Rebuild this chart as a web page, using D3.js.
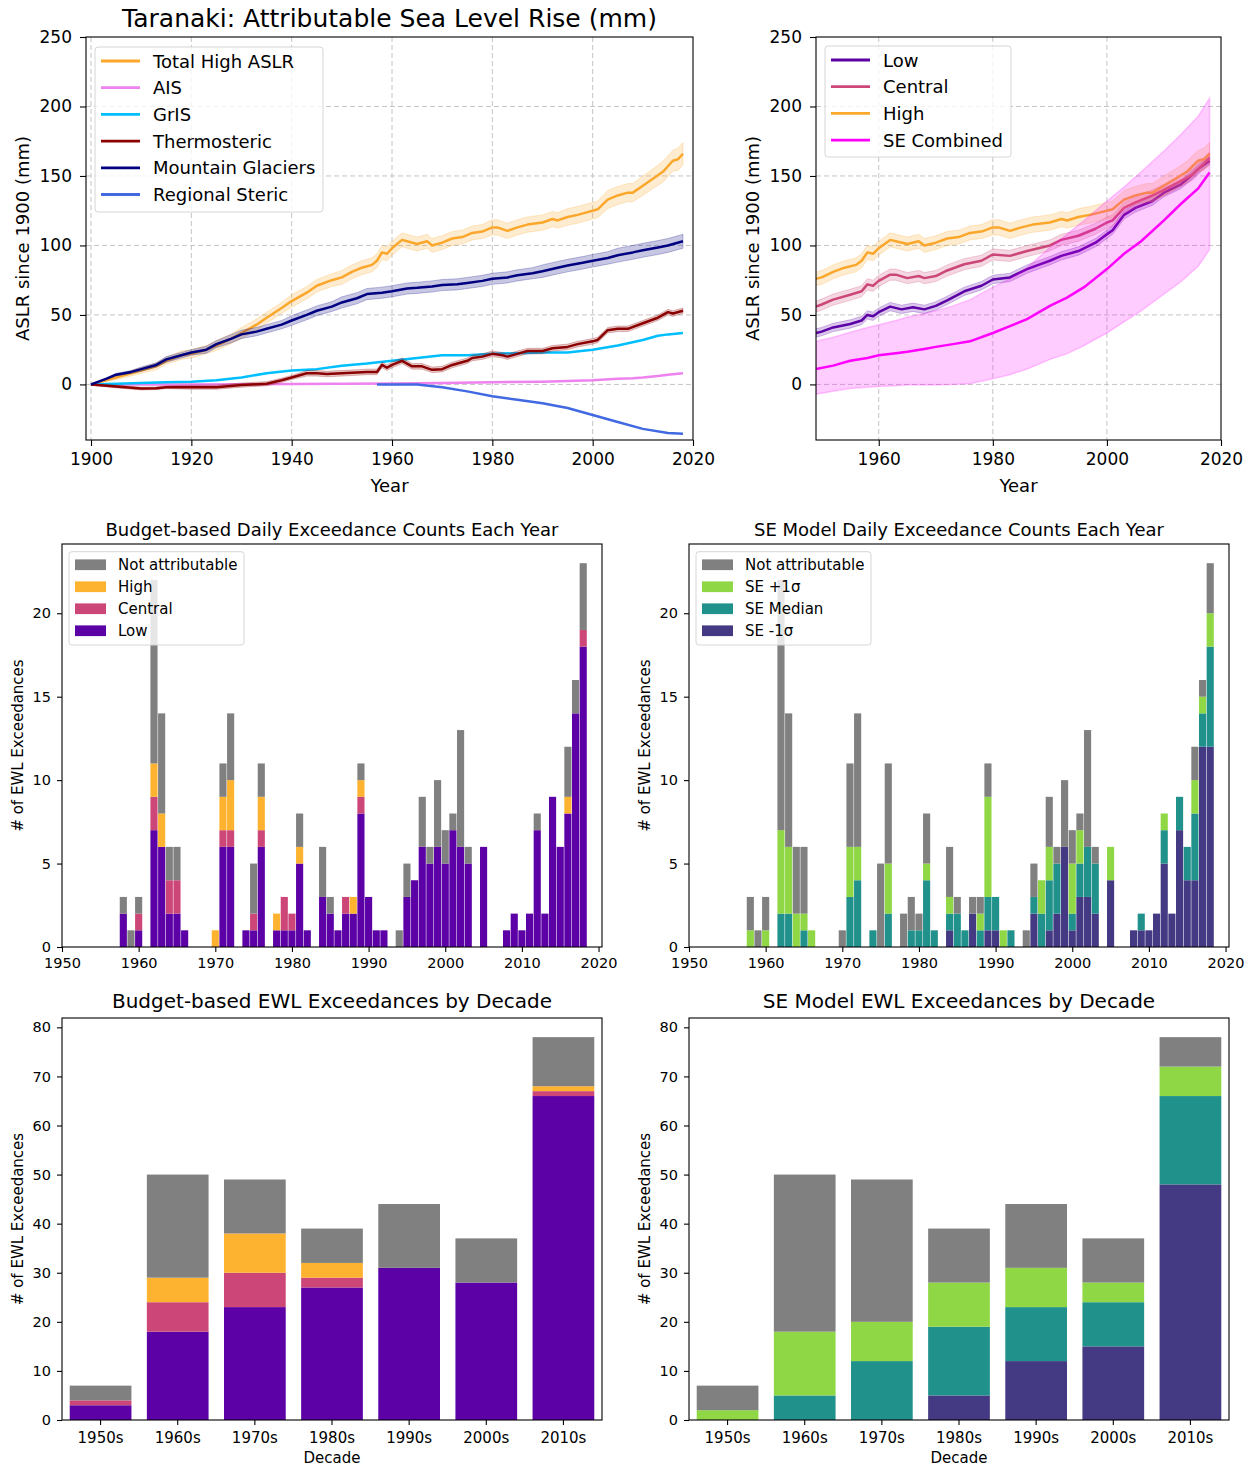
<!DOCTYPE html>
<html>
<head>
<meta charset="utf-8">
<script src="https://cdn.jsdelivr.net/npm/d3@7"></script>
<style>
  body { margin: 0; background: #fff; }
  svg { font-family: "DejaVu Sans", sans-serif; }
</style>
</head>
<body>
<svg id="fig" width="1255" height="1469"></svg>
<script>
// ---------- data ----------
// line series: [year, value, half band width]
const totalHighAslr = [[1900,0,0],[1903,3,1],[1905,5,1.5],[1908,8,2],[1910,10,2],[1913,13,2.5],[1915,17,2.5],[1918,21,3],[1920,22,3],[1923,25,3],[1925,28,3.5],[1928,33,3.5],[1930,37,4],[1933,43,4],[1935,48,4],[1938,55,4],[1940,60,4.5],[1943,66,4.5],[1945,71,4.5],[1948,75,4.5],[1950,77,5],[1952,81,5],[1954,84,5],[1956,86,5],[1957,89,5],[1958,95,5],[1959,94,5],[1960,98,5],[1962,104,5],[1963,103,5],[1965,101,5],[1967,103,5],[1968,100,5],[1970,102,5],[1972,105,5],[1974,106,5],[1976,109,5],[1978,110,5],[1980,113,5.5],[1981,113,5.5],[1983,110.5,5.5],[1985,113,5.5],[1987,115,5.5],[1990,116.5,5.5],[1992,119,5.5],[1993,118,5.5],[1995,120.5,6],[1997,122,6],[1999,124,6],[2000,125,6],[2001,126,6],[2003,133,6.5],[2005,136,6.5],[2007,138,6.5],[2008,138,6.5],[2010,143,7],[2012,148,7],[2014,153,7.5],[2015,157,7.5],[2016,161,7.5],[2017,162,8],[2018,166,8]];
const ais = [[1900,0,0],[1920,0,0],[1940,0.3,0],[1960,0.6,0],[1970,1,0],[1980,1.5,0],[1990,2,0],[1995,2.5,0],[2000,3,0],[2005,4,0],[2008,4.5,0],[2010,5,0],[2013,6,0],[2015,7,0],[2018,8,0]];
const gris = [[1900,0,0],[1905,0.5,0],[1910,1,0],[1915,1.5,0],[1920,2,0],[1925,3,0],[1930,5,0],[1935,8,0],[1940,10,0],[1945,11,0],[1950,13.5,0],[1955,15,0],[1960,17,0],[1965,19,0],[1970,21,0],[1975,21,0],[1980,22,0],[1985,22.5,0],[1990,23,0],[1995,23,0],[2000,25,0],[2005,28,0],[2010,32,0],[2013,35,0],[2015,36,0],[2018,37,0]];
const thermosteric = [[1900,0,0.5],[1905,-1.5,1],[1910,-3,1],[1913,-2.8,1],[1915,-2,1],[1920,-2,1.5],[1925,-2,1.5],[1930,-0.5,1.5],[1935,0.5,1.5],[1938,3,1.5],[1940,5,1.5],[1943,8,2],[1945,8,2],[1947,7.5,2],[1950,8,2],[1955,9,2],[1957,9,2],[1958,14,2],[1959,12,2],[1960,14,2],[1962,17,2],[1964,13,2],[1966,13,2],[1968,10.5,2],[1970,11,2],[1972,14,2],[1975,17,2],[1976,19,2],[1978,20,2],[1980,22,2],[1982,21,2],[1983,20,2],[1985,22,2],[1987,24,2],[1990,24,2],[1992,26,2],[1995,27,2],[1997,29,2],[2000,31,2],[2001,32,2],[2003,39,2],[2005,40,2],[2007,40,2],[2010,44,2],[2013,48,2],[2015,52,2],[2016,51,2],[2018,53,2]];
const mountainGlaciers = [[1900,0,0],[1903,4,0.5],[1905,7,1],[1908,9,1],[1910,11,1.5],[1913,14,1.5],[1915,18,2],[1918,21,2],[1920,23,2],[1923,25,2.5],[1925,29,2.5],[1928,33,3],[1930,36,3],[1933,38,3],[1935,40,3],[1938,43,3],[1940,46,3.5],[1943,50,3.5],[1945,53,3.5],[1948,56,3.5],[1950,59,4],[1953,62,4],[1955,65,4],[1958,66,4],[1960,67,4],[1963,69,4],[1965,69.5,4],[1968,70.5,4],[1970,71.5,4],[1973,72,4],[1975,73,4],[1978,74.5,4],[1980,76,4],[1983,77,4],[1985,78.5,4],[1988,80,4],[1990,81.5,4.5],[1993,84,4.5],[1995,85.5,4.5],[1998,87.5,4.5],[2000,89,4.5],[2003,91,4.5],[2005,93,5],[2008,95,5],[2010,96.5,5],[2013,98.5,5],[2015,100,5],[2018,103,5]];
const regionalSteric = [[1957,0,0],[1960,0,0],[1965,0,0],[1970,-2,0],[1975,-5,0],[1980,-8.5,0],[1985,-11,0],[1990,-13.5,0],[1995,-17,0],[2000,-22,0],[2005,-27,0],[2010,-32,0],[2015,-35,0],[2018,-35.5,0]];

const lowAslr = [[1949,37,3],[1950,38,3],[1952,41,3],[1955,43.5,3],[1957,46,3],[1958,50,3],[1959,49,3],[1960,52,3],[1962,56,3],[1964,54,3],[1966,55.5,3],[1968,54,3],[1970,56.5,3],[1972,60.5,3],[1975,67,3],[1978,71,3],[1980,75.5,3],[1983,77,3],[1986,83,3],[1988,86,3],[1990,89,3],[1992,92.5,3],[1995,96,3],[1998,102,3],[2000,108,3],[2001,111,3],[2003,122,3],[2005,127,3],[2008,132,3],[2010,138,3],[2013,144,3],[2015,151,3],[2016,155,3],[2018,161,3]];
const centralAslr = [[1949,56,4],[1950,57.5,4],[1952,61,4],[1955,64.5,4],[1957,67,4],[1958,72,4],[1959,71,4],[1960,74.5,4],[1962,79,4],[1963,79,4],[1965,76.5,4],[1967,78,4],[1968,76.5,4],[1970,78,4],[1972,82,4],[1975,86.5,4],[1978,89,4],[1980,93.5,4],[1983,92.5,4],[1986,96,4],[1990,100,4],[1992,104,4],[1995,107,4],[1998,112,4],[2000,116.5,4],[2001,118,4],[2003,127,4],[2005,131,4],[2008,136,4],[2010,140,4],[2013,146.5,4],[2015,151,4],[2016,155,4],[2018,163,4]];
// SE combined: [year, median, lower, upper]
const seCombined = [[1949,11,-7,31],[1952,13.5,-5,34],[1955,17,-3,37.5],[1958,19,-2,41],[1960,21,-1.5,43],[1963,22.5,-1,46],[1965,23.5,-0.5,48.5],[1968,25.5,-0.5,51],[1970,27,-0.5,53],[1973,29,0,56.5],[1976,31,0.5,61],[1980,37,4,70],[1983,42,7,76],[1986,47,11,84],[1990,56.5,18,98.5],[1993,62.5,22,108],[1996,70,28,118],[2000,83,37,132],[2003,94,45,142],[2006,103,53,153],[2010,118,65,168],[2013,130,74,180],[2016,141,85,193],[2018,152.5,97,206]];

// daily exceedance counts per year
const barYears = [1958,1959,1960,1962,1963,1964,1965,1966,1970,1971,1972,1974,1975,1976,1978,1979,1980,1981,1982,1984,1985,1986,1987,1988,1989,1990,1991,1992,1994,1995,1996,1997,1998,1999,2000,2001,2002,2003,2005,2008,2009,2010,2011,2012,2013,2014,2015,2016,2017,2018];
const budgetLow     = [2,0,1,7,6,2,2,1,0,6, 6,1,1,6,1,1,1,5,1,3, 2,1,2,2,8,3,1,1,0,3, 4,6,5,6,5,7,6,5,6,1, 2,1,2,7,2,9,6,8,14,18];
const budgetCentral = [0,0,1,2,0,2,2,0,0,1, 1,0,1,1,0,2,1,0,0,0, 0,0,1,0,1,0,0,0,0,0, 0,0,0,0,0,0,0,0,0,0, 0,0,0,0,0,0,0,0,0,1];
const budgetHigh    = [0,0,0,2,2,0,0,0,1,2, 3,0,0,2,1,0,0,1,0,0, 0,0,0,1,1,0,0,0,0,0, 0,0,0,0,0,0,0,0,0,0, 0,0,0,0,0,0,0,1,0,0];
const budgetNA      = [1,1,1,11,6,2,2,0,0,2, 4,0,3,2,0,0,0,2,0,3, 1,0,0,0,1,0,0,0,1,2, 0,3,1,4,2,1,7,1,0,0, 0,0,0,1,0,0,0,3,2,4];
const seMinus  = [0,0,0,0,0,0,0,0,0,0, 0,0,0,0,0,0,0,0,0,1, 0,0,2,0,1,1,0,0,0,2, 0,1,2,6,1,3,3,2,4,1, 1,1,2,5,2,7,4,4,12,12];
const seMedian = [0,0,0,2,2,0,1,0,0,3, 4,1,0,2,0,1,1,4,1,1, 2,1,0,1,2,2,0,1,0,1, 2,3,3,0,1,2,3,3,0,0, 1,0,0,2,0,2,2,4,2,6];
const sePlus   = [1,0,1,5,4,2,1,1,0,3, 2,0,0,3,0,0,0,1,0,1, 0,0,0,1,6,0,1,0,0,0, 2,2,0,0,3,2,0,0,2,0, 0,0,0,1,0,0,0,2,1,2];
const seNA     = [2,1,2,15,8,4,4,0,1,5, 8,0,5,6,2,2,1,3,0,3, 1,0,1,1,2,0,0,0,1,2, 0,3,1,4,2,1,7,1,0,0, 0,0,0,0,0,0,0,2,1,3];

// exceedances per decade
const decades = ["1950s","1960s","1970s","1980s","1990s","2000s","2010s"];
const decBudgetLow = [3,18,23,27,31,28,66];
const decBudgetCentral = [1,6,7,2,0,0,1];
const decBudgetHigh = [0,5,8,3,0,0,1];
const decBudgetNA = [3,21,11,7,13,9,10];
const decSeMinus = [0,0,0,5,12,15,48];
const decSeMedian = [0,5,12,14,11,9,18];
const decSePlus = [2,13,8,9,8,4,6];
const decSeNA = [5,32,29,11,13,9,6];

const topXTicks = [1900,1920,1940,1960,1980,2000,2020];
const topRXTicks = [1960,1980,2000,2020];
const topYTicks = [0,50,100,150,200,250];
const midXTicks = [1950,1960,1970,1980,1990,2000,2010,2020];
const midYTicks = [0,5,10,15,20];
const botYTicks = [0,10,20,30,40,50,60,70,80];

// ---------- colours ----------
const C = {
  gray: "#808080", low: "#5c01a6", central: "#cc4778", high: "#fdb32f", highLine: "#fba72c",
  seMinus: "#443983", seMedian: "#21918c", sePlus: "#8fd744", seLine: "#ff00ff"
};

const svg = d3.select("#fig");
const FONT = '"DejaVu Sans", sans-serif';

function frame(b) {
  svg.append("rect").attr("x", b.left).attr("y", b.top)
    .attr("width", b.right - b.left).attr("height", b.bottom - b.top)
    .attr("fill", "none").attr("stroke", "#000").attr("stroke-width", 1.1);
}

function styleAxis(g, fs) {
  g.attr("font-size", fs).attr("font-family", FONT);
  g.select(".domain").remove();
  g.selectAll(".tick line").attr("stroke", "#000").attr("stroke-width", 1.1);
  g.selectAll(".tick text").attr("fill", "#000");
}

function addText(x, y, txt, fs, opts = {}) {
  const t = svg.append("text").attr("x", x).attr("y", y)
    .attr("font-size", fs).attr("text-anchor", opts.anchor || "middle")
    .attr("fill", "#000").text(txt);
  if (opts.rotate) t.attr("transform", `rotate(-90,${x},${y})`).attr("dominant-baseline", "central");
  return t;
}

function legendBox(x0, y0, x1, y1) {
  svg.append("rect").attr("x", x0).attr("y", y0).attr("width", x1 - x0).attr("height", y1 - y0)
    .attr("rx", 3).attr("fill", "#fff").attr("fill-opacity", 0.8)
    .attr("stroke", "#d6d6d6").attr("stroke-width", 1);
}

// ---------- line panels ----------
function linePanel(b, xDomain, xTicks, series, seBand, legend, clipId) {
  const x = d3.scaleLinear().domain(xDomain).range([b.left, b.right]);
  const y = d3.scaleLinear().domain([-40, 250]).range([b.bottom, b.top]);

  svg.append("clipPath").attr("id", clipId).append("rect")
    .attr("x", b.left).attr("y", b.top).attr("width", b.right - b.left).attr("height", b.bottom - b.top);

  const grid = svg.append("g").attr("stroke", "#c4c4c4").attr("stroke-width", 1).attr("stroke-dasharray", "5,3");
  grid.selectAll(".gx").data(xTicks.filter(t => t > xDomain[0] && t < xDomain[1])).join("line")
    .attr("x1", d => x(d)).attr("x2", d => x(d)).attr("y1", b.top).attr("y2", b.bottom);
  grid.selectAll(".gy").data(topYTicks.filter(t => t > -40 && t < 250)).join("line")
    .attr("y1", d => y(d)).attr("y2", d => y(d)).attr("x1", b.left).attr("x2", b.right);

  const g = svg.append("g").attr("clip-path", `url(#${clipId})`);
  const band = d3.area().x(d => x(d[0])).y0(d => y(d[1] - d[2])).y1(d => y(d[1] + d[2]));
  const line = d3.line().x(d => x(d[0])).y(d => y(d[1]));

  series.forEach(s => {
    if (d3.max(s.data, d => d[2]) > 0) {
      g.append("path").datum(s.data).attr("d", band).attr("fill", s.color).attr("fill-opacity", 0.22)
        .attr("stroke", s.color).attr("stroke-opacity", 0.25).attr("stroke-width", 1);
    }
    g.append("path").datum(s.data).attr("d", line).attr("fill", "none")
      .attr("stroke", s.color).attr("stroke-width", 2.5).attr("stroke-linejoin", "round");
  });

  if (seBand) {
    const seArea = d3.area().x(d => x(d[0])).y0(d => y(d[2])).y1(d => y(d[3]));
    g.append("path").datum(seBand).attr("d", seArea).attr("fill", C.seLine).attr("fill-opacity", 0.2)
      .attr("stroke", C.seLine).attr("stroke-opacity", 0.2).attr("stroke-width", 1.5);
    g.append("path").datum(seBand).attr("d", d3.line().x(d => x(d[0])).y(d => y(d[1])))
      .attr("fill", "none").attr("stroke", C.seLine).attr("stroke-width", 2.5);
  }

  frame(b);
  const gx = svg.append("g").attr("transform", `translate(0,${b.bottom})`)
    .call(d3.axisBottom(x).tickValues(xTicks).tickFormat(d3.format("d")).tickSize(6).tickPadding(7));
  styleAxis(gx, 17);
  const gy = svg.append("g").attr("transform", `translate(${b.left},0)`)
    .call(d3.axisLeft(y).tickValues(topYTicks).tickSize(6).tickPadding(8));
  styleAxis(gy, 17);

  addText((b.left + b.right) / 2, 492, "Year", 18);
  addText(b.left - 64, (b.top + b.bottom) / 2, "ASLR since 1900 (mm)", 18, { rotate: true });

  // legend
  legendBox(legend.x0, legend.y0, legend.x1, legend.y1);
  legend.items.forEach((it, i) => {
    const yy = legend.y0 + 14 + i * 26.7;
    svg.append("line").attr("x1", legend.x0 + 6).attr("x2", legend.x0 + 45).attr("y1", yy).attr("y2", yy)
      .attr("stroke", it.color).attr("stroke-width", 2.8);
    svg.append("text").attr("x", legend.x0 + 58).attr("y", yy).attr("dominant-baseline", "central")
      .attr("font-size", 18).attr("fill", "#000").text(it.label);
  });
}

const tlBox = { left: 86, right: 693, top: 37, bottom: 440 };
linePanel(tlBox, [1899, 2020], topXTicks, [
  { data: totalHighAslr, color: C.highLine },
  { data: ais, color: "violet" },
  { data: gris, color: "deepskyblue" },
  { data: thermosteric, color: "darkred" },
  { data: mountainGlaciers, color: "navy" },
  { data: regionalSteric, color: "royalblue" }
], null, {
  x0: 95, y0: 47, x1: 323, y1: 212,
  items: [
    { label: "Total High ASLR", color: C.highLine },
    { label: "AIS", color: "violet" },
    { label: "GrIS", color: "deepskyblue" },
    { label: "Thermosteric", color: "darkred" },
    { label: "Mountain Glaciers", color: "navy" },
    { label: "Regional Steric", color: "royalblue" }
  ]
}, "clipTL");
addText((tlBox.left + tlBox.right) / 2, 27, "Taranaki: Attributable Sea Level Rise (mm)", 25);

const trBox = { left: 816, right: 1221, top: 37, bottom: 440 };
linePanel(trBox, [1949, 2020], topRXTicks, [
  { data: lowAslr, color: C.low },
  { data: centralAslr, color: C.central },
  { data: totalHighAslr, color: C.highLine }
], seCombined, {
  x0: 825, y0: 46, x1: 1011, y1: 157,
  items: [
    { label: "Low", color: C.low },
    { label: "Central", color: C.central },
    { label: "High", color: C.highLine },
    { label: "SE Combined", color: C.seLine }
  ]
}, "clipTR");

// ---------- stacked bar panels ----------
function barLegend(x0, items) {
  legendBox(x0, 551.7, x0 + 175, 645);
  items.forEach((it, i) => {
    const yy = 564.7 + i * 22;
    svg.append("rect").attr("x", x0 + 6).attr("y", yy - 5.3).attr("width", 31).attr("height", 10.7).attr("fill", it.color);
    svg.append("text").attr("x", x0 + 49).attr("y", yy).attr("dominant-baseline", "central")
      .attr("font-size", 15).attr("fill", "#000").text(it.label);
  });
}

function yearBarPanel(b, stacks, title, legendItems) {
  const x = d3.scaleLinear().domain([1950, 2020.45]).range([b.left, b.right]);
  const y = d3.scaleLinear().domain([0, 24.15]).range([b.bottom, b.top]);
  const bw = (x(1951) - x(1950)) * 0.93;

  const rows = barYears.map((yr, i) => {
    const r = { year: yr };
    stacks.forEach(s => r[s.key] = s.values[i]);
    return r;
  });
  const stacked = d3.stack().keys(stacks.map(s => s.key))(rows);
  stacked.forEach((layer, k) => {
    svg.append("g").attr("fill", stacks[k].color)
      .selectAll("rect").data(layer.filter(d => d[1] > d[0])).join("rect")
      .attr("x", d => x(d.data.year) - bw / 2).attr("width", bw)
      .attr("y", d => y(d[1])).attr("height", d => y(d[0]) - y(d[1]));
  });

  frame(b);
  const gx = svg.append("g").attr("transform", `translate(0,${b.bottom})`)
    .call(d3.axisBottom(x).tickValues(midXTicks).tickFormat(d3.format("d")).tickSize(5).tickPadding(6));
  styleAxis(gx, 14.5);
  const gy = svg.append("g").attr("transform", `translate(${b.left},0)`)
    .call(d3.axisLeft(y).tickValues(midYTicks).tickSize(5).tickPadding(6));
  styleAxis(gy, 14.5);

  addText((b.left + b.right) / 2, 536, title, 18);
  addText(b.left - 44, (b.top + b.bottom) / 2, "# of EWL Exceedances", 15, { rotate: true });
  barLegend(b.left + 7, legendItems);
}

yearBarPanel({ left: 62, right: 602, top: 544, bottom: 947 }, [
  { key: "low", values: budgetLow, color: C.low },
  { key: "central", values: budgetCentral, color: C.central },
  { key: "high", values: budgetHigh, color: C.high },
  { key: "na", values: budgetNA, color: C.gray }
], "Budget-based Daily Exceedance Counts Each Year", [
  { label: "Not attributable", color: C.gray },
  { label: "High", color: C.high },
  { label: "Central", color: C.central },
  { label: "Low", color: C.low }
]);

yearBarPanel({ left: 689, right: 1229, top: 544, bottom: 947 }, [
  { key: "minus", values: seMinus, color: C.seMinus },
  { key: "median", values: seMedian, color: C.seMedian },
  { key: "plus", values: sePlus, color: C.sePlus },
  { key: "na", values: seNA, color: C.gray }
], "SE Model Daily Exceedance Counts Each Year", [
  { label: "Not attributable", color: C.gray },
  { label: "SE +1σ", color: C.sePlus },
  { label: "SE Median", color: C.seMedian },
  { label: "SE -1σ", color: C.seMinus }
]);

function decadePanel(b, stacks, title) {
  const x = d3.scaleBand().domain(decades).range([b.left, b.right]).paddingInner(0.2).paddingOuter(0.1);
  const y = d3.scaleLinear().domain([0, 81.9]).range([b.bottom, b.top]);

  const rows = decades.map((dc, i) => {
    const r = { decade: dc };
    stacks.forEach(s => r[s.key] = s.values[i]);
    return r;
  });
  const stacked = d3.stack().keys(stacks.map(s => s.key))(rows);
  stacked.forEach((layer, k) => {
    svg.append("g").attr("fill", stacks[k].color)
      .selectAll("rect").data(layer.filter(d => d[1] > d[0])).join("rect")
      .attr("x", d => x(d.data.decade)).attr("width", x.bandwidth())
      .attr("y", d => y(d[1])).attr("height", d => y(d[0]) - y(d[1]));
  });

  frame(b);
  const gx = svg.append("g").attr("transform", `translate(0,${b.bottom})`)
    .call(d3.axisBottom(x).tickSize(5).tickPadding(7));
  styleAxis(gx, 15);
  const gy = svg.append("g").attr("transform", `translate(${b.left},0)`)
    .call(d3.axisLeft(y).tickValues(botYTicks).tickSize(5).tickPadding(6));
  styleAxis(gy, 14.5);

  addText((b.left + b.right) / 2, 1008, title, 20);
  addText((b.left + b.right) / 2, 1463, "Decade", 15);
  addText(b.left - 44, (b.top + b.bottom) / 2, "# of EWL Exceedances", 15, { rotate: true });
}

decadePanel({ left: 62, right: 602, top: 1018, bottom: 1420 }, [
  { key: "low", values: decBudgetLow, color: C.low },
  { key: "central", values: decBudgetCentral, color: C.central },
  { key: "high", values: decBudgetHigh, color: C.high },
  { key: "na", values: decBudgetNA, color: C.gray }
], "Budget-based EWL Exceedances by Decade");

decadePanel({ left: 689, right: 1229, top: 1018, bottom: 1420 }, [
  { key: "minus", values: decSeMinus, color: C.seMinus },
  { key: "median", values: decSeMedian, color: C.seMedian },
  { key: "plus", values: decSePlus, color: C.sePlus },
  { key: "na", values: decSeNA, color: C.gray }
], "SE Model EWL Exceedances by Decade");
</script>
</body>
</html>
